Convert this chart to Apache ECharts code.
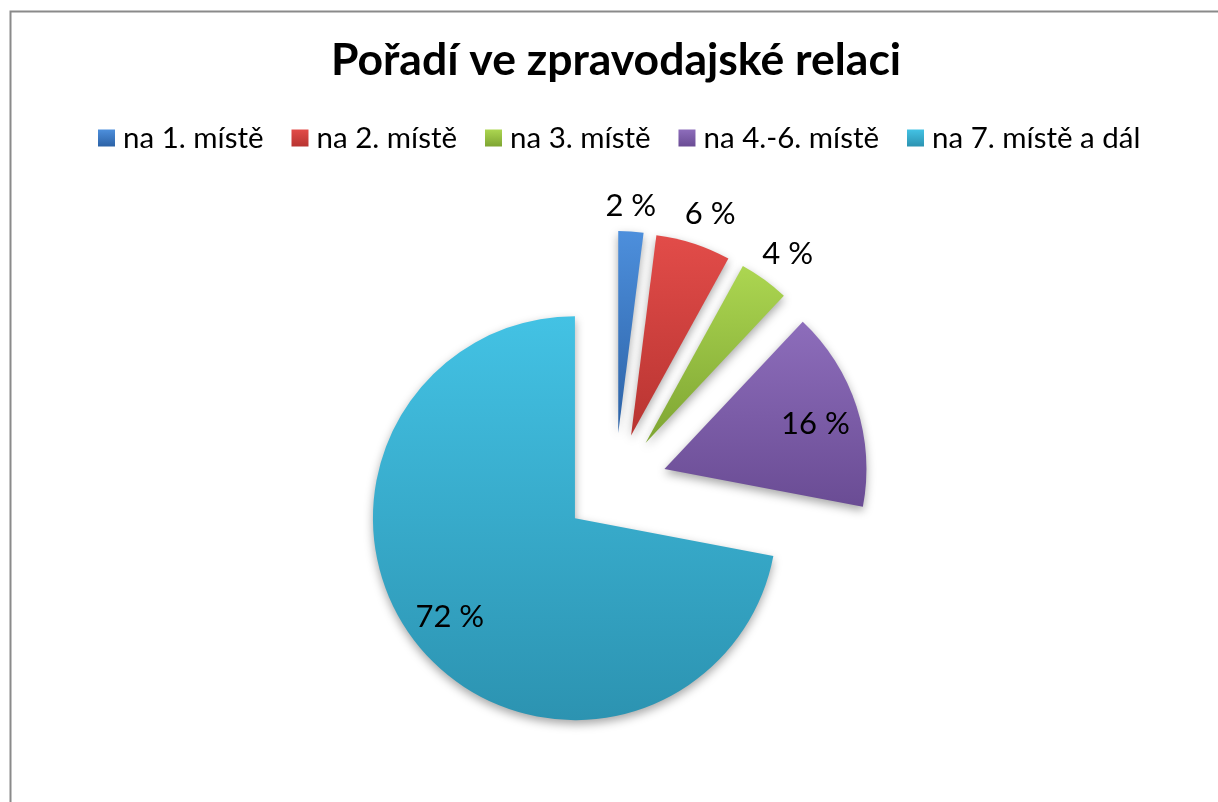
<!DOCTYPE html>
<html>
<head>
<meta charset="utf-8">
<script src="https://cdn.jsdelivr.net/npm/echarts@6/dist/echarts.min.js"></script>
<style>
html,body{margin:0;padding:0;background:#fff;}
#chart{width:1218px;height:802px;}
</style>
</head>
<body>
<div id="chart"></div>
<script>
const titleText = 'Pořadí ve zpravodajské relaci';
const categories = ['na 1. místě', 'na 2. místě', 'na 3. místě', 'na 4.-6. místě', 'na 7. místě a dál'];
const values = [2, 6, 4, 16, 72];

// styling
const topColors = ['#4d8fdc', '#e24c49', '#acd651', '#8d6dbb', '#43c2e4'];
const bottomColors = ['#2c62a6', '#b83431', '#7ea532', '#6a4c94', '#2c93b1'];
const labelNudge = [[6, -123], [47, -123], [81, -105], [52, -13], [-45, 33]];

const chart = echarts.init(document.getElementById('chart'), null, {renderer: 'canvas'});

function grad(i) {
  return new echarts.graphic.LinearGradient(0, 0, 0, 1, [
    {offset: 0, color: topColors[i]},
    {offset: 1, color: bottomColors[i]}
  ]);
}

const option = {
  backgroundColor: '#ffffff',
  animation: false,
  graphic: [{
    type: 'rect',
    left: 8, top: 9,
    shape: {width: 1300, height: 900},
    style: {fill: 'none', stroke: '#8a8a8a', lineWidth: 2},
    z: -10
  }],
  title: {
    text: titleText,
    left: 326,
    top: 33,
    textStyle: {fontFamily: 'Lato', fontWeight: 'bold', fontSize: 44.5, color: '#000'}
  },
  legend: {
    top: 118,
    left: 93,
    itemWidth: 17,
    itemHeight: 17,
    itemGap: 28,
    icon: 'rect',
    textStyle: {fontFamily: 'Lato', fontSize: 29.5, color: '#000', padding: [0, 0, 0, 3]},
    data: categories
  },
  series: [{
    type: 'pie',
    center: [615, 485],
    radius: [0, 202],
    startAngle: 90,
    clockwise: true,
    selectedMode: 'multiple',
    selectedOffset: 52,
    avoidLabelOverlap: false,
    emphasis: {disabled: true},
    itemStyle: {
      shadowBlur: 10,
      shadowColor: 'rgba(0,0,0,0.35)',
      shadowOffsetY: 4,
      borderWidth: 0
    },
    label: {
      show: true,
      position: 'inside',
      formatter: p => p.value + ' %',
      fontFamily: 'Lato',
      fontSize: 31,
      color: '#000'
    },
    labelLine: {show: false},
    labelLayout: function (p) {
      const n = labelNudge[p.dataIndex];
      return {dx: n[0], dy: n[1]};
    },
    data: categories.map((c, i) => ({
      name: c,
      value: values[i],
      selected: true,
      itemStyle: {color: grad(i)}
    }))
  }]
};
chart.setOption(option);
</script>
</body>
</html>
